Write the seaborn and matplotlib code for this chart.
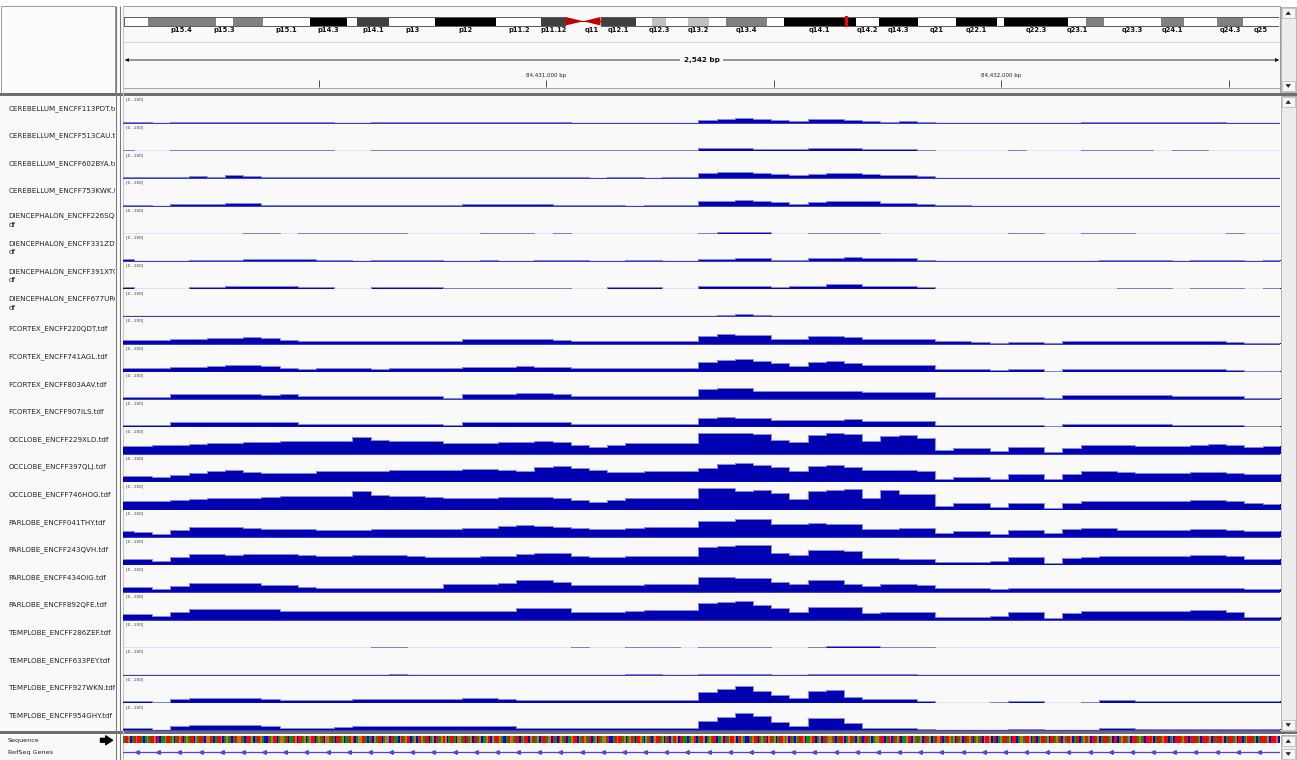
import numpy as np
import pandas as pd
import matplotlib
matplotlib.use("Agg")
import matplotlib.pyplot as plt
from matplotlib.patches import Rectangle, Polygon
from matplotlib.colors import ListedColormap
import seaborn as sns

# ---------------------------------------------------------------- data
REGION_START = 84430070
REGION_END = 84432612
BIN_START = 84430054
BIN_BP = 40
N_BINS = 64

RULER_TICKS = [84430500, 84431000, 84431500, 84432000, 84432500]
RULER_LABELS = {84431000: "84,431,000 bp", 84432000: "84,432,000 bp"}

CHR_LEN = 135.006516
BAND_NAMES = ["p15.5", "p15.4", "p15.3", "p15.2", "p15.1", "p14.3", "p14.2", "p14.1", "p13", "p12",
              "p11.2", "p11.12", "p11.11", "q11", "q12.1", "q12.2", "q12.3", "q13.1", "q13.2", "q13.3",
              "q13.4", "q13.5", "q14.1", "q14.2", "q14.3", "q21", "q22.1", "q22.2", "q22.3", "q23.1",
              "q23.2", "q23.3", "q24.1", "q24.2", "q24.3", "q25"]
BAND_STARTS = [0.0, 2.8, 10.7, 12.7, 16.2, 21.7, 26.1, 27.2, 31.0, 36.4,
               43.5, 48.8, 51.6, 53.7, 55.7, 59.9, 61.7, 63.4, 65.9, 68.4,
               70.4, 75.2, 77.1, 85.6, 88.3, 92.8, 97.2, 102.1, 102.9, 110.4,
               112.5, 114.5, 121.2, 123.9, 127.8, 130.8]
BAND_STAINS = ["gneg", "gpos50", "gneg", "gpos50", "gneg", "gpos100", "gneg", "gpos75", "gneg", "gpos100",
               "gneg", "gpos75", "acen", "acen", "gpos75", "gneg", "gpos25", "gneg", "gpos25", "gneg",
               "gpos50", "gneg", "gpos100", "gneg", "gpos100", "gneg", "gpos100", "gneg", "gpos100", "gneg",
               "gpos50", "gneg", "gpos50", "gneg", "gpos50", "gneg"]
SHOWN_BAND_LABELS = ["p15.4", "p15.3", "p15.1", "p14.3", "p14.1", "p13", "p12", "p11.2", "p11.12", "q11",
                     "q12.1", "q12.3", "q13.2", "q13.4", "q14.1", "q14.2", "q14.3", "q21", "q22.1", "q22.3",
                     "q23.1", "q23.3", "q24.1", "q24.3", "q25"]

TRACK_LABELS = [
    "CEREBELLUM_ENCFF113PDT.tdf", "CEREBELLUM_ENCFF513CAU.tdf", "CEREBELLUM_ENCFF602BYA.tdf",
    "CEREBELLUM_ENCFF753KWK.tdf",
    "DIENCEPHALON_ENCFF226SQI.t\ndf", "DIENCEPHALON_ENCFF331ZDV.t\ndf",
    "DIENCEPHALON_ENCFF391XTC.t\ndf", "DIENCEPHALON_ENCFF677URC.t\ndf",
    "FCORTEX_ENCFF220QDT.tdf", "FCORTEX_ENCFF741AGL.tdf", "FCORTEX_ENCFF803AAV.tdf", "FCORTEX_ENCFF907ILS.tdf",
    "OCCLOBE_ENCFF229XLD.tdf", "OCCLOBE_ENCFF397QLJ.tdf", "OCCLOBE_ENCFF746HOG.tdf",
    "PARLOBE_ENCFF041THY.tdf", "PARLOBE_ENCFF243QVH.tdf", "PARLOBE_ENCFF434OIG.tdf", "PARLOBE_ENCFF892QFE.tdf",
    "TEMPLOBE_ENCFF286ZEF.tdf", "TEMPLOBE_ENCFF633PEY.tdf", "TEMPLOBE_ENCFF927WKN.tdf", "TEMPLOBE_ENCFF954GHY.tdf",
]

T01 = [6, 6, 0, 8, 8, 9, 8, 10, 8, 8, 7, 8, 0, 3, 10, 10,
       11, 10, 10, 12, 10, 10, 11, 10, 10, 0, 0, 3, 0, 0, 0, 0,
       25, 30, 38, 32, 22, 20, 28, 30, 26, 14, 12, 14, 8, 0, 0, 0,
       0, 5, 5, 0, 0, 6, 6, 6, 6, 6, 6, 6, 6, 0, 0, 0]
T02 = [3, 0, 0, 6, 6, 6, 6, 6, 6, 6, 6, 6, 0, 0, 9, 9,
       5, 4, 5, 4, 4, 5, 9, 9, 9, 3, 3, 3, 4, 4, 4, 4,
       22, 24, 20, 16, 12, 10, 22, 24, 20, 14, 12, 10, 8, 0, 0, 0,
       0, 6, 0, 0, 0, 6, 6, 6, 6, 0, 6, 6, 0, 0, 0, 0]
T03 = [7, 7, 7, 14, 16, 14, 22, 20, 8, 7, 7, 7, 7, 7, 7, 7,
       7, 7, 7, 14, 14, 14, 14, 14, 12, 7, 5, 7, 7, 5, 7, 7,
       41, 44, 48, 40, 30, 22, 30, 38, 40, 36, 24, 22, 18, 5, 4, 0,
       0, 0, 0, 0, 0, 0, 0, 0, 0, 0, 0, 0, 0, 0, 3, 0]
T04 = [5, 5, 0, 14, 17, 18, 22, 20, 5, 5, 5, 5, 5, 5, 5, 5,
       5, 5, 5, 12, 12, 12, 12, 12, 10, 5, 5, 5, 3, 5, 5, 5,
       36, 36, 42, 38, 28, 17, 28, 36, 38, 34, 22, 20, 17, 5, 4, 0,
       0, 0, 0, 0, 0, 0, 0, 0, 0, 0, 0, 0, 0, 0, 0, 0]
T05 = [0, 0, 0, 0, 0, 0, 0, 6, 6, 0, 6, 6, 3, 6, 6, 6,
       0, 0, 0, 0, 6, 6, 6, 0, 3, 0, 0, 0, 0, 0, 0, 0,
       4, 10, 14, 12, 0, 0, 6, 8, 5, 4, 0, 0, 0, 0, 0, 0,
       0, 5, 4, 0, 0, 5, 5, 3, 0, 0, 0, 0, 0, 4, 0, 0]
T06 = [14, 0, 0, 3, 12, 12, 12, 19, 19, 19, 14, 10, 8, 0, 10, 10,
       10, 10, 0, 0, 6, 0, 0, 8, 8, 8, 0, 0, 8, 8, 0, 0,
       17, 17, 22, 22, 10, 10, 22, 24, 31, 24, 22, 22, 10, 3, 3, 0,
       0, 0, 0, 0, 0, 3, 8, 8, 8, 8, 0, 8, 8, 8, 0, 8]
T07 = [14, 0, 0, 0, 12, 12, 21, 21, 21, 21, 12, 12, 0, 0, 12, 12,
       12, 12, 6, 6, 6, 6, 6, 6, 6, 0, 0, 12, 12, 12, 0, 0,
       19, 24, 24, 24, 12, 19, 19, 34, 34, 22, 22, 22, 12, 0, 0, 0,
       0, 0, 0, 0, 0, 0, 0, 6, 6, 6, 0, 6, 6, 6, 0, 6]
T08 = [0, 0, 0, 0, 0, 0, 0, 6, 6, 0, 6, 6, 3, 6, 6, 6,
       0, 0, 0, 0, 6, 6, 6, 0, 3, 0, 0, 0, 0, 0, 0, 0,
       5, 8, 19, 14, 0, 3, 6, 6, 6, 4, 0, 0, 0, 0, 0, 0,
       0, 5, 5, 0, 0, 5, 5, 3, 0, 0, 0, 0, 0, 4, 0, 0]
T09 = [29, 29, 32, 39, 40, 44, 48, 50, 46, 30, 24, 22, 22, 22, 22, 22,
       22, 22, 22, 34, 34, 36, 36, 34, 32, 24, 24, 24, 24, 24, 24, 24,
       60, 77, 70, 66, 38, 36, 56, 58, 52, 40, 38, 36, 36, 19, 19, 17,
       8, 17, 17, 8, 19, 19, 19, 19, 19, 19, 19, 19, 19, 12, 10, 10]
T10 = [27, 27, 27, 36, 36, 40, 48, 48, 44, 24, 22, 24, 26, 24, 22, 24,
       24, 26, 24, 36, 34, 36, 38, 36, 34, 27, 27, 27, 27, 27, 27, 27,
       73, 88, 92, 80, 60, 43, 70, 75, 60, 51, 52, 50, 48, 19, 19, 19,
       10, 19, 19, 8, 19, 19, 19, 19, 19, 19, 19, 19, 19, 12, 7, 7]
T11 = [17, 17, 17, 36, 36, 38, 36, 36, 34, 36, 22, 22, 22, 22, 22, 22,
       22, 22, 10, 36, 36, 36, 46, 46, 42, 22, 22, 22, 22, 22, 22, 22,
       77, 80, 85, 62, 58, 60, 62, 60, 58, 53, 53, 53, 53, 17, 17, 17,
       17, 17, 17, 8, 29, 29, 29, 29, 29, 29, 22, 22, 22, 22, 7, 7]
T12 = [17, 17, 17, 34, 34, 34, 34, 34, 34, 34, 19, 19, 19, 19, 19, 19,
       19, 19, 14, 36, 36, 36, 36, 36, 36, 24, 24, 24, 24, 24, 24, 24,
       68, 70, 66, 64, 48, 48, 50, 52, 60, 44, 44, 44, 44, 10, 10, 10,
       10, 10, 10, 6, 24, 24, 24, 24, 24, 24, 17, 17, 17, 17, 5, 5]
T13 = [63, 63, 69, 72, 80, 87, 85, 88, 94, 100, 98, 102, 100, 130, 105, 100,
       100, 97, 87, 85, 84, 88, 94, 96, 90, 72, 56, 72, 87, 86, 84, 86,
       160, 160, 158, 150, 110, 92, 140, 155, 152, 100, 135, 140, 118, 30, 46, 46,
       25, 56, 56, 15, 50, 72, 72, 68, 64, 62, 62, 72, 74, 68, 56, 60]
T14 = [46, 46, 40, 55, 70, 80, 87, 72, 70, 68, 70, 78, 80, 80, 82, 85,
       89, 88, 92, 95, 94, 90, 82, 110, 118, 104, 85, 72, 74, 80, 82, 78,
       100, 135, 140, 128, 108, 82, 118, 125, 112, 92, 88, 90, 84, 20, 36, 38,
       22, 56, 58, 20, 60, 80, 82, 72, 70, 70, 68, 76, 74, 66, 58, 56]
T15 = [60, 60, 66, 70, 78, 85, 84, 88, 95, 100, 100, 104, 100, 138, 108, 100,
       98, 95, 86, 84, 86, 90, 96, 94, 88, 70, 54, 70, 86, 86, 86, 88,
       162, 160, 135, 148, 120, 78, 140, 148, 150, 88, 142, 118, 112, 28, 46, 46,
       22, 52, 52, 12, 50, 66, 66, 64, 64, 62, 66, 72, 70, 64, 50, 40]
T16 = [46, 40, 27, 50, 73, 73, 72, 70, 63, 63, 60, 56, 56, 56, 60, 63,
       63, 63, 63, 67, 67, 80, 87, 85, 73, 65, 63, 63, 68, 73, 73, 73,
       123, 123, 135, 135, 100, 100, 108, 100, 95, 63, 63, 67, 67, 31, 44, 46,
       25, 56, 56, 31, 60, 67, 67, 50, 50, 50, 50, 60, 63, 56, 46, 46]
T17 = [46, 46, 31, 60, 80, 80, 75, 80, 82, 82, 70, 63, 63, 70, 70, 70,
       65, 58, 58, 60, 63, 63, 80, 87, 85, 63, 56, 56, 63, 63, 63, 63,
       135, 140, 147, 145, 90, 75, 106, 106, 104, 51, 48, 46, 46, 22, 22, 24,
       30, 56, 56, 15, 50, 58, 63, 63, 63, 63, 63, 70, 70, 65, 46, 46]
T18 = [41, 38, 24, 50, 73, 73, 72, 70, 56, 56, 40, 36, 36, 36, 36, 36,
       36, 36, 60, 65, 65, 68, 89, 89, 80, 56, 56, 56, 58, 60, 60, 60,
       116, 112, 109, 109, 80, 65, 89, 89, 60, 48, 60, 60, 58, 36, 36, 36,
       24, 36, 36, 30, 36, 36, 36, 36, 36, 36, 36, 36, 34, 30, 22, 22]
T19 = [48, 46, 31, 62, 80, 80, 80, 80, 78, 66, 63, 63, 66, 68, 68, 68,
       68, 68, 63, 63, 63, 66, 88, 92, 85, 56, 56, 58, 70, 73, 73, 73,
       123, 135, 140, 112, 85, 60, 99, 99, 97, 51, 56, 56, 56, 19, 19, 19,
       30, 56, 56, 15, 55, 68, 68, 68, 68, 68, 68, 73, 73, 60, 24, 24]
T20 = [0, 0, 0, 0, 0, 0, 0, 0, 0, 0, 0, 0, 0, 0, 4, 7,
       0, 0, 0, 0, 0, 0, 0, 0, 0, 3, 0, 0, 7, 7, 5, 0,
       7, 7, 7, 7, 0, 0, 7, 12, 12, 12, 7, 7, 3, 0, 0, 0,
       0, 0, 0, 0, 0, 0, 0, 0, 0, 0, 0, 0, 0, 0, 0, 0]
T21 = [0, 0, 0, 0, 0, 0, 0, 0, 0, 0, 0, 0, 0, 0, 3, 6,
       0, 0, 0, 0, 0, 0, 0, 0, 0, 3, 0, 0, 6, 6, 4, 0,
       6, 6, 6, 6, 0, 0, 6, 10, 10, 10, 6, 6, 3, 0, 0, 0,
       0, 0, 0, 0, 0, 0, 0, 0, 0, 0, 0, 0, 0, 0, 0, 0]
T22 = [17, 17, 5, 30, 36, 36, 38, 36, 30, 24, 24, 22, 24, 29, 29, 29,
       29, 28, 29, 36, 36, 30, 24, 24, 24, 24, 22, 24, 24, 24, 22, 24,
       78, 100, 123, 88, 55, 38, 89, 92, 45, 27, 27, 27, 12, 0, 0, 0,
       5, 12, 12, 0, 0, 5, 19, 19, 12, 12, 12, 14, 12, 12, 10, 10]
T23 = [17, 17, 5, 35, 39, 39, 40, 38, 30, 19, 19, 19, 24, 31, 31, 31,
       31, 30, 31, 36, 36, 30, 19, 19, 19, 19, 19, 19, 19, 19, 19, 19,
       70, 100, 126, 105, 60, 32, 88, 88, 55, 19, 19, 19, 12, 0, 0, 0,
       5, 12, 12, 0, 0, 5, 19, 19, 10, 10, 12, 12, 12, 12, 12, 10]
TRACK_VALUES = [T01, T02, T03, T04, T05, T06, T07, T08, T09, T10, T11, T12,
                T13, T14, T15, T16, T17, T18, T19, T20, T21, T22, T23]

SEQUENCE = ("ATTGCATGTTACAGATTGCTCAAGTTAGCATGTCAGATTCGATTACGGTACATTGCAGATCATG"
            "GTACTTAGCATTGACCTAGTTCAGGATCAATGCTTAGCAGTTCAGATCGGATACTTAGCAATGT"
            "CAGGTTACATCGATTCAGGCTTAACGTAGTTCAGCATGATTCAGCTAAGTGCATTACGGATCTA"
            "GCTTAGCAAGTCGATTGACCATGGATTCAGTTCGATAGCATTAGGCTACTGATCAAGTTCGATG"
            "ATTCAGCTAGGATCCATGTTAGCAGTACTTGACGATCAGTTAGCATCGATGCTTAACAGGTCAT"
            "TGCAGATTCAAGCTAGTTGCATGACCTAGTTCAGATCGTAGCATTGAGCTACGATTGCAAGTTC"
            "AGCTTAGGATCATTGCAGTTACGATCTTAGCAGGATTCATGCTAGTCAAGTTCGATAGCTTAGC"
            "ATGGTCATTGAGCTAGCTTAGTCAGATCGTTGCATCAGATTAGCTTCAGGATTGCATCAGTTAG"
            "CTTAGATCGATTGCATTCAGTAGCTTAGCATTTAGCTTCAGTTAGCTTTAGATCTTTGCATTAG"
            "TTCAGCTTTAGTTCATTTAGCTTTAGCTATTTGCATTTAGCTTCAGTTTAGCATTTAGCTTTGC")
BASES = "ACGT"
BASE_COLORS = ["#009600", "#0000ff", "#d17105", "#ff0000"]
STAIN_COLORS = {"gneg": "#ffffff", "gpos25": "#c0c0c0", "gpos50": "#808080",
                "gpos75": "#404040", "gpos100": "#000000", "acen": "#c00000"}

# ---------------------------------------------------------------- figure
sns.set_theme(style="white")
plt.rcParams["font.family"] = ["DejaVu Sans"]

W, H = 1297, 760
fig = plt.figure(figsize=(W / 100, H / 100), dpi=100, facecolor="white")


def px_axes(x0, y0, w, h, z=1):
    return fig.add_axes([x0 / W, 1 - (y0 + h) / H, w / W, h / H], zorder=z)


bg = px_axes(0, 0, W, H, z=0)
bg.set_xlim(0, W)
bg.set_ylim(H, 0)
bg.axis("off")

PANEL = "#f9f9f9"


def rect(x0, y0, x1, y1, fc, ec="none", lw=0.0, z=1):
    bg.add_patch(Rectangle((x0, y0), x1 - x0, y1 - y0, facecolor=fc, edgecolor=ec, linewidth=lw, zorder=z))


def line(xs, ys, c, lw=0.72, z=3):
    bg.plot(xs, ys, color=c, lw=lw, zorder=z, solid_capstyle="butt")


# panels
rect(0.5, 6, 115, 92.5, "#fcfcfc", "#9a9a9a", 0.7)
rect(123, 6, 1280, 92.5, PANEL, "#9a9a9a", 0.7)
line([123, 1280], [42, 42], "#d6d6d6")
rect(123, 87.5, 1280, 92.5, "#f0f0f0", "#9a9a9a", 0.6)
rect(0, 92.8, W, 95.8, "#6e6e6e")
rect(0, 96, 115, 731, PANEL)
rect(123, 96, 1280, 731, PANEL)
rect(0, 731.3, W, 734.3, "#6e6e6e")
rect(0, 734.5, 115, H, PANEL)
rect(123, 734.5, 1280, H, PANEL)
for xv, c in [(115.5, "#7a7a7a"), (119.5, "#7a7a7a"), (122.6, "#c4c4c4")]:
    line([xv, xv], [6, H], c, lw=0.8)


def scrollbar(y0, y1):
    rect(1280.5, y0, 1296, y1, "#ededed", "#a8a8a8", 0.6)
    for yc, up in [(y0 + 6, True), (y1 - 6, False)]:
        rect(1281.5, yc - 5, 1295, yc + 5, "#f6f6f6", "#b4b4b4", 0.5, z=2)
        d = -1.8 if up else 1.8
        bg.add_patch(Polygon([(1285.5, yc - d), (1291, yc - d), (1288.25, yc + d)],
                             closed=True, facecolor="#222222", edgecolor="none", zorder=4))


scrollbar(7, 92)
scrollbar(96, 731)
scrollbar(735, H)

# ---------------------------------------------------------------- ideogram
ideo = px_axes(124, 12, 1155, 22, z=3)
ideo.set_xlim(0, CHR_LEN)
ideo.set_ylim(34, 12)
ideo.axis("off")
band_ends = BAND_STARTS[1:] + [CHR_LEN]
for name, s, e, st in zip(BAND_NAMES, BAND_STARTS, band_ends, BAND_STAINS):
    if st != "acen":
        ideo.bar(s, 8.5, width=e - s, bottom=17, align="edge", color=STAIN_COLORS[st],
                 edgecolor="none", linewidth=0)
    if name in SHOWN_BAND_LABELS:
        ideo.text((s + e) / 2, 29.6, name, ha="center", va="center", fontsize=4.9,
                  fontweight="bold", color="#111111")
cen_l = BAND_STARTS[BAND_NAMES.index("p11.11")]
cen_m = BAND_STARTS[BAND_NAMES.index("q11")]
cen_r = BAND_STARTS[BAND_NAMES.index("q12.1")]
ideo.add_patch(Rectangle((0, 17), cen_l, 8.5, fill=False, edgecolor="#5a5a5a", linewidth=0.7))
ideo.add_patch(Rectangle((cen_r, 17), CHR_LEN - cen_r, 8.5, fill=False, edgecolor="#5a5a5a", linewidth=0.7))
ideo.add_patch(Polygon([(cen_l, 17), (cen_l, 25.5), (cen_m, 21.25)], closed=True,
                       facecolor=STAIN_COLORS["acen"], edgecolor="none"))
ideo.add_patch(Polygon([(cen_r, 17), (cen_r, 25.5), (cen_m, 21.25)], closed=True,
                       facecolor=STAIN_COLORS["acen"], edgecolor="none"))
ideo.plot([cen_l, cen_r], [21.25, 21.25], color=STAIN_COLORS["acen"], lw=0.8)
ideo.bar(REGION_START / 1e6, 11.5, width=0.35, bottom=15.5, align="center",
         color="#ff0000", edgecolor="none")

# ---------------------------------------------------------------- ruler
rul = px_axes(123, 42, 1157, 50, z=3)
rul.set_xlim(REGION_START, REGION_END)
rul.set_ylim(92, 42)
rul.axis("off")
rul.annotate("", xy=(REGION_END - 2, 60), xytext=(REGION_START + 4, 60),
             arrowprops=dict(arrowstyle="<|-|>", color="#111111", lw=0.6,
                             mutation_scale=5, shrinkA=0, shrinkB=0))
rul.text((REGION_START + REGION_END) / 2, 60, f"{REGION_END - REGION_START:,} bp",
         ha="center", va="center", fontsize=5.2, fontweight="bold", color="#111111",
         bbox=dict(boxstyle="square,pad=0.55", facecolor=PANEL, edgecolor="none"))
rul.vlines(RULER_TICKS, 80, 86.5, color="#333333", lw=0.6)
for t, lab in RULER_LABELS.items():
    rul.text(t, 75, lab, ha="center", va="center", fontsize=4.0, color="#222222")

# ---------------------------------------------------------------- tracks
FILL = "#0000b0"
HALO = "#8d8de0"
BASELINE = "#3c3cc8"
edges = BIN_START + BIN_BP * np.arange(N_BINS + 1)
TOP0, TRACK_H = 96.1, 27.6

names_ax = px_axes(0, 96, 115, 635, z=3)
names_ax.set_xlim(0, 115)
names_ax.set_ylim(731.1, 96.1)
names_ax.axis("off")

for i, (label, vals) in enumerate(zip(TRACK_LABELS, TRACK_VALUES)):
    top = TOP0 + i * TRACK_H
    ax = px_axes(123, top, 1157, TRACK_H, z=2)
    ax.set_facecolor("none")
    step_vals = np.asarray(list(vals) + [vals[-1]], dtype=float)
    df = pd.DataFrame({"pos": edges, "coverage": step_vals})
    ax.fill_between(df["pos"], 0, df["coverage"], step="post", color=FILL, linewidth=0)
    sns.lineplot(data=df, x="pos", y="coverage", drawstyle="steps-post", color=HALO,
                 linewidth=0.7, ax=ax, estimator=None, sort=False)
    ax.axhline(0, color=BASELINE, lw=0.9)
    ax.set_xlim(REGION_START, REGION_END)
    ax.set_ylim(-3.5, 200)
    ax.axis("off")
    ax.text(0.0025, 0.94, "[0 - 200]", transform=ax.transAxes, fontsize=2.9,
            ha="left", va="top", color="#333333")
    yc = top + TRACK_H / 2 - (1.5 if "\n" not in label else 0)
    names_ax.text(8.5, yc, label, ha="left", va="center", fontsize=5.15, color="#222222",
                  linespacing=1.45, clip_on=True)

# ---------------------------------------------------------------- sequence + refseq
seq_ax = px_axes(123, 735.8, 1157, 7.6, z=3)
codes = np.array([[BASES.index(b) for b in SEQUENCE]])
sns.heatmap(codes, ax=seq_ax, cmap=ListedColormap(BASE_COLORS), vmin=0, vmax=3,
            cbar=False, xticklabels=False, yticklabels=False)
seq_ax.axis("off")

gene_ax = px_axes(123, 746, 1157, 12, z=3)
gene_ax.set_xlim(REGION_START, REGION_END)
gene_ax.set_ylim(12, 0)
gene_ax.axis("off")
gene_ax.plot([REGION_START, REGION_END], [6.3, 6.3], color="#4646e0", lw=0.9)
arrow_pos = np.arange(REGION_START + 31, REGION_END, 46.5)
gene_ax.plot(arrow_pos, np.full(len(arrow_pos), 6.3), linestyle="none", marker="<",
             markersize=2.6, color="#4646e0")

bg.text(8, 740.5, "Sequence", fontsize=4.6, va="center", ha="left", color="#222222", zorder=5)
bg.text(8, 752.7, "RefSeq Genes", fontsize=4.6, va="center", ha="left", color="#222222", zorder=5)
bg.annotate("", xy=(112.5, 740.3), xytext=(100.5, 740.3),
            arrowprops=dict(arrowstyle="simple,head_width=0.9,head_length=0.7,tail_width=0.4",
                            color="black", mutation_scale=7, shrinkA=0, shrinkB=0), zorder=5)

fig.savefig("out.png", dpi=100, facecolor="white")
